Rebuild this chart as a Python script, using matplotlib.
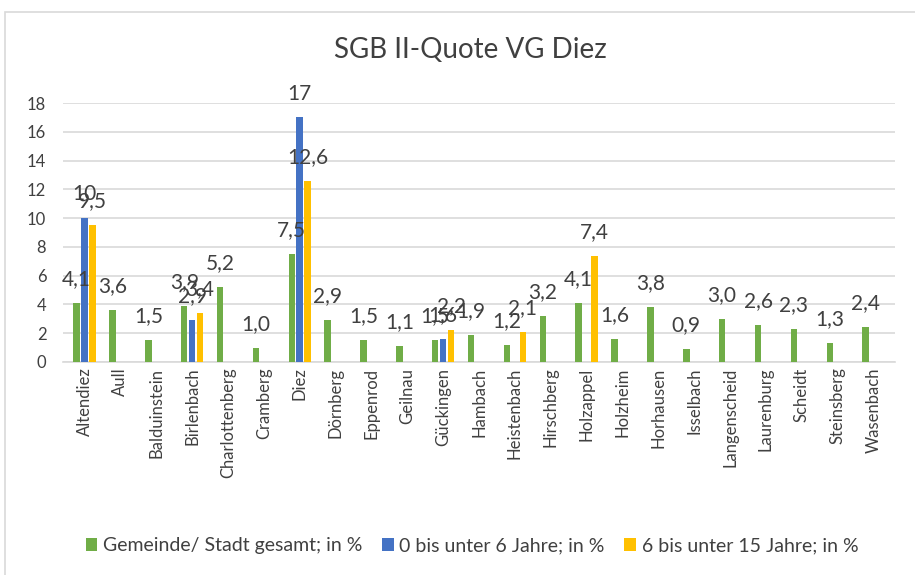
import numpy as np
import matplotlib
matplotlib.use("Agg")
import matplotlib.pyplot as plt
from matplotlib.patches import Rectangle

categories = ["Altendiez", "Aull", "Balduinstein", "Birlenbach", "Charlottenberg",
              "Cramberg", "Diez", "Dörnberg", "Eppenrod", "Geilnau", "Gückingen",
              "Hambach", "Heistenbach", "Hirschberg", "Holzappel", "Holzheim",
              "Horhausen", "Isselbach", "Langenscheid", "Laurenburg", "Scheidt",
              "Steinsberg", "Wasenbach"]
gesamt = [4.1, 3.6, 1.5, 3.9, 5.2, 1.0, 7.5, 2.9, 1.5, 1.1, 1.5, 1.9, 1.2, 3.2,
          4.1, 1.6, 3.8, 0.9, 3.0, 2.6, 2.3, 1.3, 2.4]
unter6 = [10, None, None, 2.9, None, None, 17, None, None, None, 1.6, None, None,
          None, None, None, None, None, None, None, None, None, None]
unter15 = [9.5, None, None, 3.4, None, None, 12.6, None, None, None, 2.2, None, 2.1,
           None, 7.4, None, None, None, None, None, None, None, None]
series_names = ["Gemeinde/ Stadt gesamt; in %", "0 bis unter 6 Jahre; in %",
                "6 bis unter 15 Jahre; in %"]
colors = ["#70AD47", "#4472C4", "#FFC000"]

plt.rcParams['font.family'] = ['Lato', 'DejaVu Sans']

fig = plt.figure(figsize=(9.15, 5.75), dpi=100)
ax = fig.add_axes([63/915, 1-362/575, (895-63)/915, (362-103)/575])

x = np.arange(len(categories))
offsets = [-0.22, 0.0, 0.22]
width = 0.18
txtcol = "#404040"

for vals, off, col, name in zip([gesamt, unter6, unter15], offsets, colors, series_names):
    v = np.array([np.nan if a is None else a for a in vals], dtype=float)
    ax.bar(x + off, v, width=width, color=col, label=name, zorder=3)
    for xi, vi in zip(x + off, v):
        if not np.isnan(vi):
            s = ("%d" % vi) if float(vi).is_integer() and vi >= 10 else ("%.1f" % vi).replace(".", ",")
            ax.annotate(s, (xi, vi), xytext=(0, 10), textcoords="offset points",
                        ha="center", va="bottom", fontsize=15, color=txtcol, zorder=4)

ax.set_ylim(0, 18)
ax.set_yticks(np.arange(0, 19, 2))
ax.set_xlim(-0.6, len(categories) - 0.4)
ax.set_xticks(x)
ax.set_xticklabels(categories, rotation=90, fontsize=12, color=txtcol)
ax.tick_params(axis='y', labelsize=12, colors=txtcol, length=0, pad=12)
ax.tick_params(axis='x', length=0, pad=4)
ax.grid(axis='y', color="#D9D9D9", linewidth=1.2, zorder=0)
for sp in ["top", "right", "left"]:
    ax.spines[sp].set_visible(False)
ax.spines["bottom"].set_color("#D9D9D9")
ax.spines["bottom"].set_linewidth(1.2)

fig.text(470/915, 1-50/575, "SGB II-Quote VG Diez", ha="center", va="center",
         fontsize=20, color=txtcol)

handles, labels = ax.get_legend_handles_labels()
fig.legend(handles, labels, loc="center", bbox_to_anchor=(472/915, 1-546/575), ncol=3,
           frameon=False, fontsize=14, handlelength=0.6, handleheight=0.6,
           handletextpad=0.3, columnspacing=1.0, labelcolor=txtcol)

fig.patches.append(Rectangle((5/915, -0.1), 1.0, 1-12/575 + 0.1, transform=fig.transFigure,
                             fill=False, edgecolor="#D9D9D9", linewidth=1.2))

fig.savefig("out.png", dpi=100)
